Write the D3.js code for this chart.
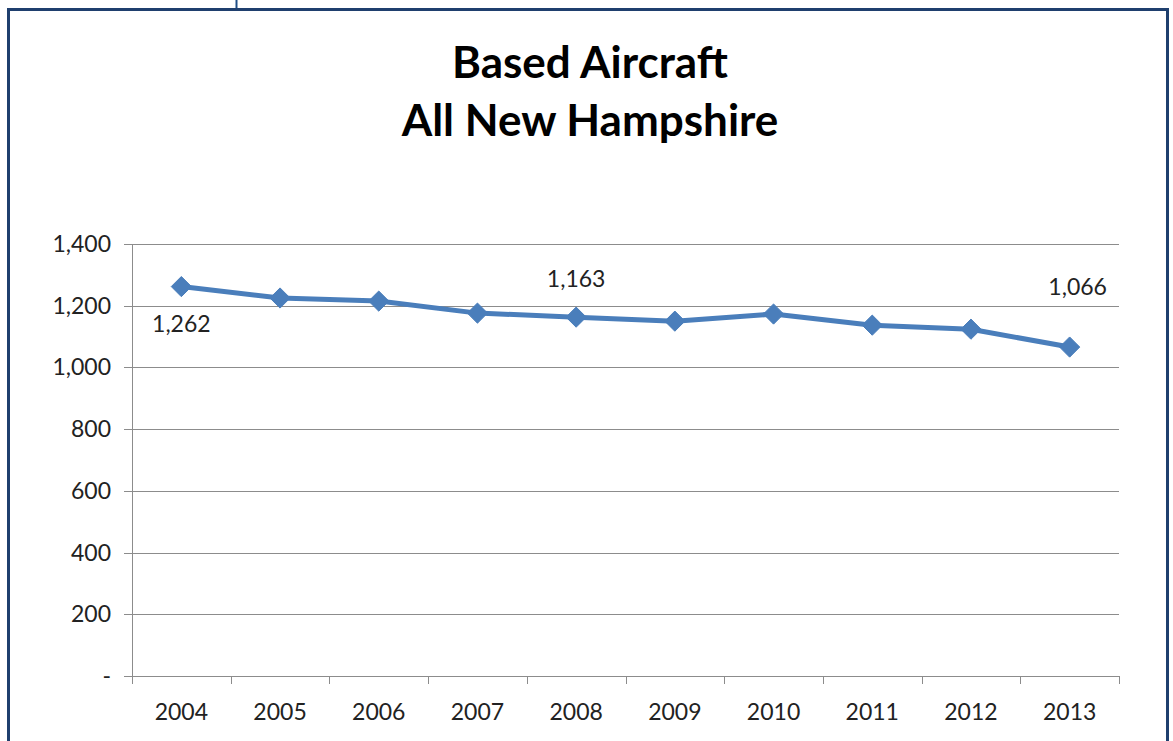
<!DOCTYPE html>
<html>
<head>
<meta charset="utf-8">
<script src="https://cdn.jsdelivr.net/npm/d3@7"></script>
<style>
  body { margin: 0; background: #fff; }
  svg { display: block; font-family: Lato, "Open Sans", sans-serif; }
</style>
</head>
<body>
<svg width="1173" height="741"></svg>
<script>
// data
let years = ["2004", "2005", "2006", "2007", "2008", "2009", "2010", "2011", "2012", "2013"];
let aircraft = [1262, 1225, 1215, 1176, 1163, 1150, 1173, 1137, 1124, 1066];
let yTicks = [0, 200, 400, 600, 800, 1000, 1200, 1400];
let labelled = ["2004", "2008", "2013"];
// where each data label sits, relative to its point
let labelDx = {"2004": 0, "2008": 0, "2013": 8};
let labelDy = {"2004": 45, "2008": -30, "2013": -52};

let svg = d3.select("svg");

let margin = {top: 244, right: 54, bottom: 65, left: 132},
    width = 1173 - margin.left - margin.right,
    height = 741 - margin.top - margin.bottom;

// frame
svg.append("rect")
  .attr("x", 8.5).attr("y", 9.5)
  .attr("width", 1159).attr("height", 760)
  .attr("fill", "#fff")
  .attr("stroke", "#1f3f6e")
  .attr("stroke-width", 3);
svg.append("line")
  .attr("x1", 236.5).attr("x2", 236.5).attr("y1", 0).attr("y2", 8)
  .attr("stroke", "#1f4e86").attr("stroke-width", 2);

// title
let title = svg.append("text")
  .attr("text-anchor", "middle")
  .attr("font-weight", "bold")
  .attr("font-size", 44)
  .attr("fill", "#000");
title.append("tspan").attr("x", 590).attr("y", 78).text("Based Aircraft");
title.append("tspan").attr("x", 590).attr("y", 136).text("All New Hampshire");

let g = svg.append("g").attr("transform", `translate(${margin.left},${margin.top})`);

let x = d3.scaleBand().domain(years).range([0, width]);
let y = d3.scaleLinear().domain([0, 1400]).range([height, 0]);

// gridlines
g.selectAll(".grid")
  .data(yTicks)
  .enter()
  .append("line")
  .attr("x1", -8).attr("x2", width)
  .attr("y1", d => Math.round(y(d)) + 0.5)
  .attr("y2", d => Math.round(y(d)) + 0.5)
  .attr("stroke", "#8c8c8c")
  .attr("stroke-width", 1);

// y axis
g.append("line")
  .attr("x1", 0.5).attr("x2", 0.5).attr("y1", 0).attr("y2", height + 8)
  .attr("stroke", "#8c8c8c");

g.selectAll(".ylab")
  .data(yTicks)
  .enter()
  .append("text")
  .attr("x", -21)
  .attr("y", d => y(d))
  .attr("dy", "0.35em")
  .attr("text-anchor", "end")
  .attr("font-size", 23)
  .attr("fill", "#222")
  .text(d => d == 0 ? "-" : d3.format(",")(d));

// x ticks
let xTickPos = years.map(d => x(d)).concat([width]);
g.selectAll(".xtick")
  .data(xTickPos)
  .enter()
  .append("line")
  .attr("x1", d => Math.round(d) + 0.5).attr("x2", d => Math.round(d) + 0.5)
  .attr("y1", height).attr("y2", height + 8)
  .attr("stroke", "#8c8c8c");

g.selectAll(".xlab")
  .data(years)
  .enter()
  .append("text")
  .attr("x", d => x(d) + x.bandwidth() / 2)
  .attr("y", height + 44)
  .attr("text-anchor", "middle")
  .attr("font-size", 23)
  .attr("fill", "#222")
  .text(d => d);

// line
let pts = years.map((d, i) => ({year: d, value: aircraft[i]}));

let line = d3.line()
  .x(d => x(d.year) + x.bandwidth() / 2)
  .y(d => y(d.value));

g.append("path")
  .datum(pts)
  .attr("d", line)
  .attr("fill", "none")
  .attr("stroke", "#4a7ebb")
  .attr("stroke-width", 5)
  .attr("stroke-linejoin", "round");

let diamond = d3.symbol().type(d3.symbolDiamond2).size(260);

g.selectAll(".pt")
  .data(pts)
  .enter()
  .append("path")
  .attr("d", diamond)
  .attr("transform", d => `translate(${x(d.year) + x.bandwidth() / 2},${y(d.value)})`)
  .attr("fill", "#4a7ebb")
  .attr("stroke", "#4a7ebb")
  .attr("stroke-width", 1);

// data labels
g.selectAll(".dlab")
  .data(pts.filter(d => labelled.includes(d.year)))
  .enter()
  .append("text")
  .attr("x", d => x(d.year) + x.bandwidth() / 2 + labelDx[d.year])
  .attr("y", d => y(d.value) + labelDy[d.year])
  .attr("text-anchor", "middle")
  .attr("font-size", 23)
  .attr("fill", "#222")
  .text(d => d3.format(",")(d.value));
</script>
</body>
</html>
